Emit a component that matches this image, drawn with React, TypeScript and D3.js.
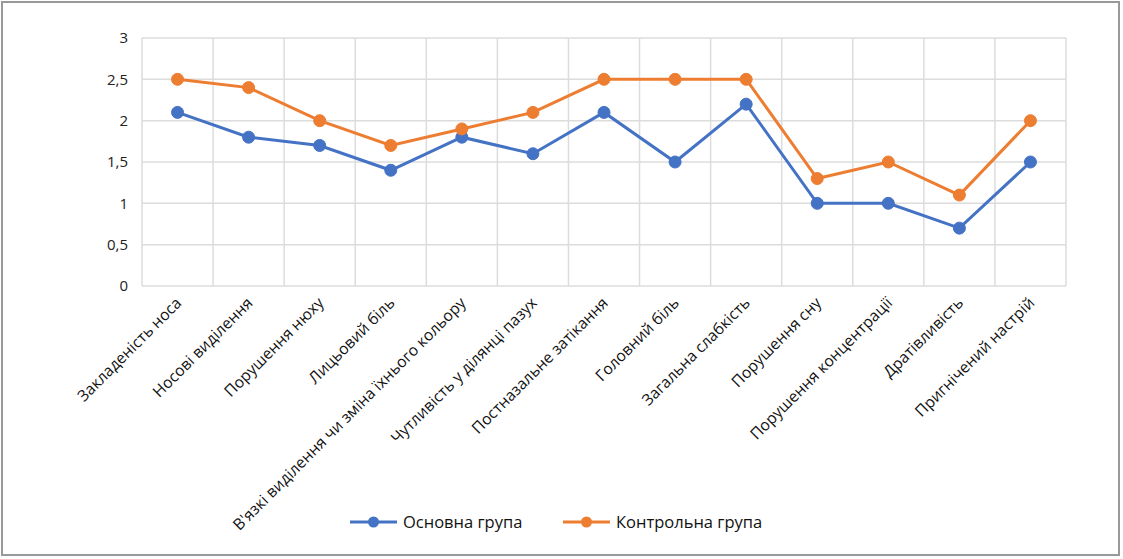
import React from "react";
import * as d3 from "d3";

const categories = [
  "Закладеність носа",
  "Носові виділення",
  "Порушення нюху",
  "Лицьовий біль",
  "В'язкі виділення чи зміна їхнього кольору",
  "Чутливість у ділянці пазух",
  "Постназальне затікання",
  "Головний біль",
  "Загальна слабкість",
  "Порушення сну",
  "Порушення концентрації",
  "Дратівливість",
  "Пригнічений настрій",
];
const mainGroup = [2.1, 1.8, 1.7, 1.4, 1.8, 1.6, 2.1, 1.5, 2.2, 1.0, 1.0, 0.7, 1.5];
const controlGroup = [2.5, 2.4, 2.0, 1.7, 1.9, 2.1, 2.5, 2.5, 2.5, 1.3, 1.5, 1.1, 2.0];
const yTicks = [0, 0.5, 1, 1.5, 2, 2.5, 3];
const seriesNames = ["Основна група", "Контрольна група"];

const W = 1123;
const H = 559;
const left = 142;
const right = 1066;
const top = 38;
const bottom = 286;
const BLUE = "#4472C4";
const ORANGE = "#ED7D31";
const FONT = "'Open Sans', 'Noto Sans', sans-serif";

export default function App() {
  const x = d3.scaleBand<string>().domain(categories).range([left, right]).padding(0);
  const y = d3.scaleLinear().domain([0, 3]).range([bottom, top]);
  const cx = (c: string) => (x(c) as number) + x.bandwidth() / 2;
  const line = d3
    .line<number>()
    .x((_, i) => cx(categories[i]))
    .y((d) => y(d));
  const series = [
    { name: seriesNames[0], values: mainGroup, color: BLUE },
    { name: seriesNames[1], values: controlGroup, color: ORANGE },
  ];
  const boundaries = categories.map((c) => x(c) as number).concat([right]);

  return (
    <svg
      width={W}
      height={H}
      style={{ position: "absolute", left: 0, top: 0, background: "#fff" }}
      fontFamily={FONT}
    >
      <rect x={2} y={2} width={1117} height={553} fill="#fff" stroke="#999" strokeWidth={2} />
      {yTicks.map((t) => (
        <line key={"h" + t} x1={left} x2={right} y1={y(t)} y2={y(t)} stroke="#dcdcdc" strokeWidth={1.5} />
      ))}
      {boundaries.map((b, i) => (
        <line key={"v" + i} x1={b} x2={b} y1={top} y2={bottom} stroke="#dcdcdc" strokeWidth={1.5} />
      ))}
      {yTicks.map((t) => (
        <text key={"t" + t} x={128} y={y(t)} dy="0.35em" textAnchor="end" fontSize={15} fill="#222">
          {String(t).replace(".", ",")}
        </text>
      ))}
      {categories.map((c) => (
        <text
          key={c}
          transform={`translate(${cx(c) + 5},${bottom + 18}) rotate(-45)`}
          textAnchor="end"
          fontSize={15.7}
          fill="#111"
        >
          {c}
        </text>
      ))}
      {series.map((s) => (
        <g key={s.name}>
          <path d={line(s.values) || ""} fill="none" stroke={s.color} strokeWidth={3} />
          {s.values.map((v, i) => (
            <circle key={i} cx={cx(categories[i])} cy={y(v)} r={6} fill={s.color} stroke={s.color} strokeWidth={1} />
          ))}
        </g>
      ))}
      {series.map((s, i) => {
        const lx = i === 0 ? 350 : 563;
        const ly = 522;
        return (
          <g key={"lg" + i}>
            <line x1={lx} x2={lx + 47} y1={ly} y2={ly} stroke={s.color} strokeWidth={3} />
            <circle cx={lx + 23.5} cy={ly} r={5.5} fill={s.color} />
            <text x={lx + 53} y={ly} dy="0.35em" fontSize={16.5} fill="#111">
              {s.name}
            </text>
          </g>
        );
      })}
    </svg>
  );
}
